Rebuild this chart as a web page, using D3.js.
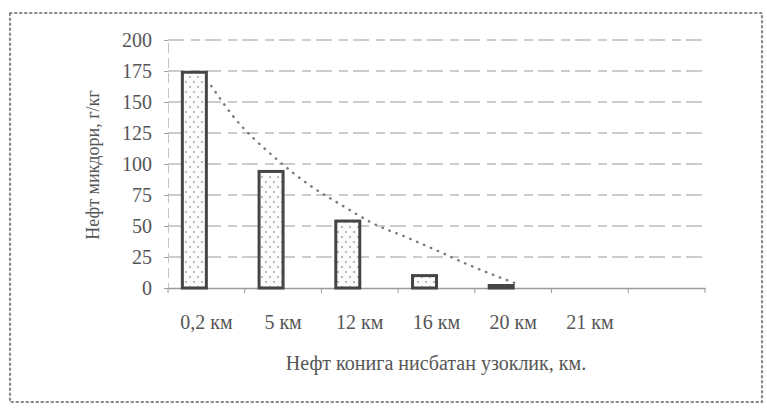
<!DOCTYPE html>
<html><head><meta charset="utf-8">
<script src="https://cdn.jsdelivr.net/npm/d3@7"></script>
<style>html,body{margin:0;padding:0;background:#fff;}svg{display:block;}
svg text{font-family:"Liberation Serif","Times New Roman","DejaVu Serif",serif !important;}</style>
</head><body>
<svg id="chart" width="767" height="410"></svg>
<script>
// ---- data ----
const categories = ["0,2 км","5 км","12 км","16 км","20 км","21 км",""];
const values = [174, 94, 54, 10, 2, 0, null];
const yTicks = [0,25,50,75,100,125,150,175,200];
// dotted trend line: position (category index, 0-based, fractional) and value
const trendPos = [0.22, 0.5, 1.07, 1.5, 1.97, 2.3, 2.8, 3.17, 3.6, 4.09, 4.22];
const trendVal = [163, 139, 104, 83, 65, 53, 40, 30, 18, 6, 3];
const xTitle = "Нефт конига нисбатан узоклик, км.";
const yTitle = "Нефт микдори, г/кг";

// ---- layout ----
const svg = d3.select("#chart");
const mLeft = 168, mRight = 705, mTop = 40, mBottom = 288;
const x = d3.scaleBand().domain(d3.range(categories.length)).range([mLeft, mRight]).padding(0);
const y = d3.scaleLinear().domain([0, 200]).range([mBottom, mTop]);
const barW = 24;
const textCol = "#555";

// outer dotted frame
svg.append("rect").attr("x", 10).attr("y", 13).attr("width", 752).attr("height", 389)
  .attr("fill", "none").attr("stroke", "#8a8a8a").attr("stroke-width", 2.2)
  .attr("stroke-dasharray", "1.5,3.5").attr("stroke-linecap", "round");

// dot pattern
const defs = svg.append("defs");
const pat = defs.append("pattern").attr("id", "dots").attr("patternUnits", "userSpaceOnUse")
  .attr("width", 8).attr("height", 10);
pat.append("rect").attr("width", 8).attr("height", 10).attr("fill", "#fcfcfc");
pat.append("circle").attr("cx", 2).attr("cy", 2).attr("r", 0.9).attr("fill", "#9a9a9a");
pat.append("circle").attr("cx", 6).attr("cy", 7).attr("r", 0.9).attr("fill", "#9a9a9a");

// gridlines
svg.append("g").selectAll("line").data(yTicks.filter(d => d > 0)).join("line")
  .attr("x1", mLeft).attr("x2", mRight)
  .attr("y1", d => y(d)).attr("y2", d => y(d))
  .attr("stroke", "#bcbcbc").attr("stroke-width", 1.3)
  .attr("stroke-dasharray", "16,7,9,5");

// y axis
const yAxis = svg.append("g").attr("transform", `translate(${mLeft},0)`)
  .call(d3.axisLeft(y).tickValues(yTicks).tickSize(4).tickPadding(12));
yAxis.select(".domain").attr("stroke", "#c4c4c4").attr("stroke-dasharray", "10,5");
yAxis.selectAll(".tick line").attr("stroke", "#a0a0a0");
yAxis.selectAll("text").attr("font-size", 20).attr("fill", textCol);

// x axis
const xAxis = svg.append("g").attr("transform", `translate(0,${mBottom})`)
  .call(d3.axisBottom(x).tickFormat(i => categories[i]).tickSize(0).tickPadding(27));
xAxis.select(".domain").attr("stroke", "#9a9a9a").attr("stroke-width", 1.3);
xAxis.selectAll("text").attr("font-size", 20).attr("fill", textCol);
// category boundary ticks
svg.append("g").selectAll("line").data(d3.range(categories.length + 1)).join("line")
  .attr("x1", i => mLeft + i * x.step()).attr("x2", i => mLeft + i * x.step())
  .attr("y1", mBottom).attr("y2", mBottom + 5)
  .attr("stroke", "#9a9a9a").attr("stroke-width", 1);

// bars
svg.append("g").selectAll("rect").data(values.map((v, i) => ({v, i})).filter(d => d.v > 0)).join("rect")
  .attr("x", d => x(d.i) + x.bandwidth() / 2 - barW)
  .attr("y", d => y(d.v))
  .attr("width", barW)
  .attr("height", d => y(0) - y(d.v))
  .attr("fill", "url(#dots)")
  .attr("stroke", "#454545").attr("stroke-width", 3);

// trend line (dotted)
const line = d3.line()
  .x((d, k) => x(0) + x.bandwidth() / 2 - barW / 2 + trendPos[k] * x.step())
  .y(d => y(d))
  .curve(d3.curveMonotoneX);
svg.append("path").attr("d", line(trendVal))
  .attr("fill", "none").attr("stroke", "#7a7a7a").attr("stroke-width", 2.4)
  .attr("stroke-dasharray", "0.5,7").attr("stroke-linecap", "round");

// axis titles
svg.append("text").attr("x", 436).attr("y", 370).attr("text-anchor", "middle")
  .attr("font-size", 20).attr("fill", textCol).text(xTitle);
svg.append("text").attr("transform", "translate(99,165) rotate(-90)").attr("text-anchor", "middle")
  .attr("font-size", 18).attr("fill", textCol).text(yTitle);
</script>
</body></html>
